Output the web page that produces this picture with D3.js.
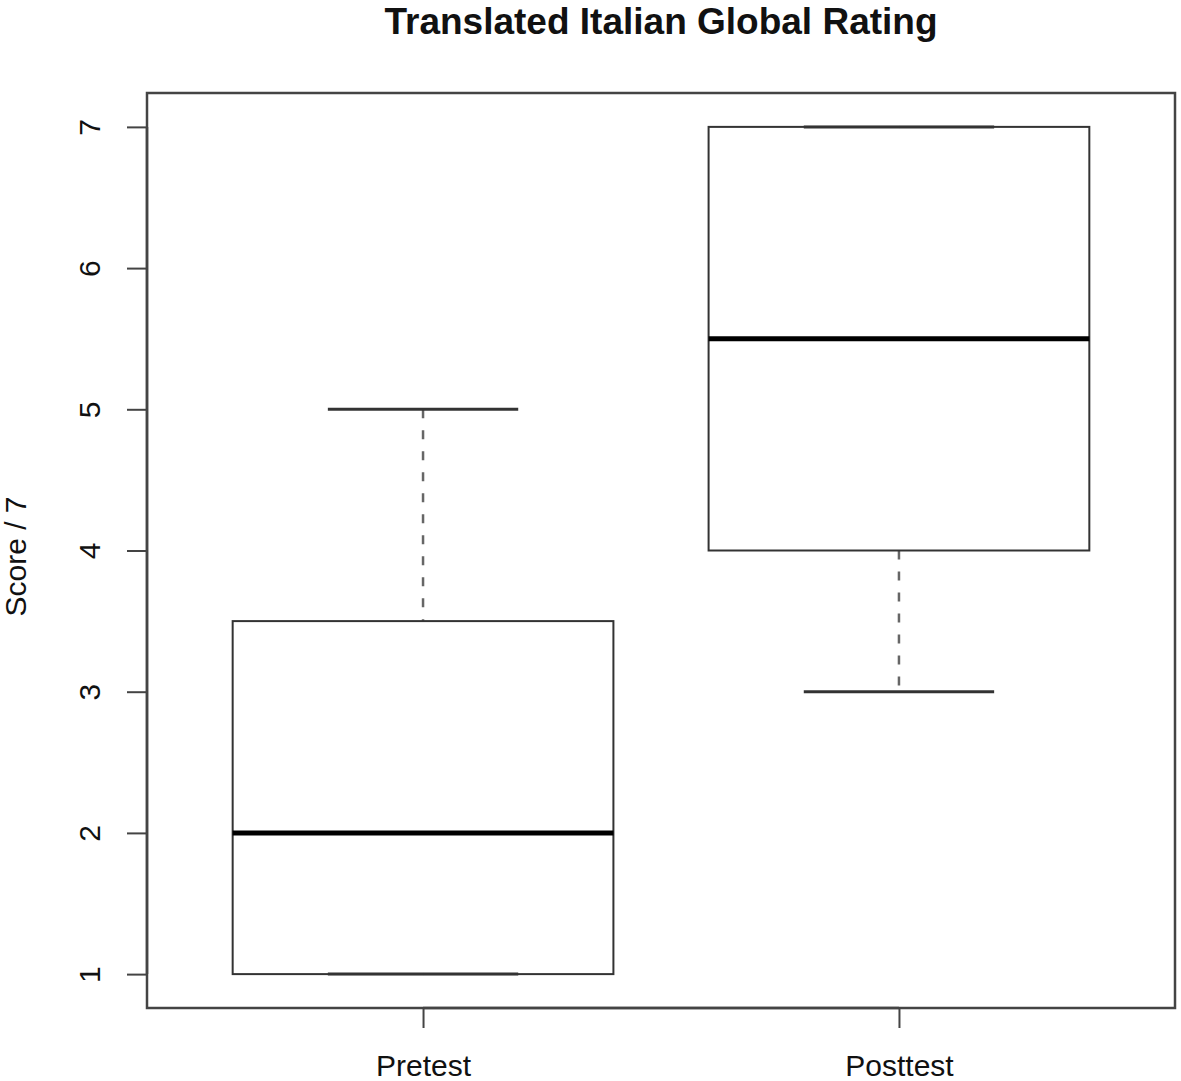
<!DOCTYPE html>
<html>
<head>
<meta charset="utf-8">
<script src="https://cdn.jsdelivr.net/npm/d3@7"></script>
<style>
  html, body { margin: 0; padding: 0; background: #fff; }
  text { font-family: "Liberation Sans", Arial, sans-serif; fill: #111; }
</style>
</head>
<body>
<svg id="chart" width="1181" height="1081"></svg>
<script>
// ---- data ----
const categories = ["Pretest", "Posttest"];
const whiskerLow  = [1, 3];
const q1          = [1, 4];
const median      = [2, 5.5];
const q3          = [3.5, 7];
const whiskerHigh = [5, 7];
const yTicks = [1, 2, 3, 4, 5, 6, 7];
const title = "Translated Italian Global Rating";
const yLabel = "Score / 7";

// ---- layout ----
const plot = { left: 147, right: 1175, top: 93, bottom: 1008 };
const svg = d3.select("#chart");

const x = d3.scaleLinear().domain([0.42, 2.58]).range([plot.left, plot.right]);
const y = d3.scaleLinear().domain([0.76, 7.24]).range([plot.bottom, plot.top]);
const boxW = x(1.4) - x(0.6);
const capW = boxW / 2;
const lineCol = "#333";

const data = categories.map((c, i) => ({
  name: c, pos: i + 1,
  lo: whiskerLow[i], q1: q1[i], med: median[i], q3: q3[i], hi: whiskerHigh[i]
}));

const g = svg.append("g");

data.forEach(d => {
  const cx = x(d.pos);
  // whiskers (dashed)
  g.append("line").attr("x1", cx).attr("x2", cx)
    .attr("y1", y(d.hi)).attr("y2", y(d.q3))
    .attr("stroke", "#666").attr("stroke-width", 2.5).attr("stroke-dasharray", "9,12");
  g.append("line").attr("x1", cx).attr("x2", cx)
    .attr("y1", y(d.q1)).attr("y2", y(d.lo))
    .attr("stroke", "#666").attr("stroke-width", 2.5).attr("stroke-dasharray", "9,12");
  // box
  g.append("rect")
    .attr("x", cx - boxW / 2).attr("y", y(d.q3))
    .attr("width", boxW).attr("height", y(d.q1) - y(d.q3))
    .attr("fill", "none").attr("stroke", lineCol).attr("stroke-width", 2);
  // caps
  [d.lo, d.hi].forEach(v => {
    g.append("line").attr("x1", cx - capW / 2).attr("x2", cx + capW / 2)
      .attr("y1", y(v)).attr("y2", y(v))
      .attr("stroke", lineCol).attr("stroke-width", 3);
  });
  // median
  g.append("line").attr("x1", cx - boxW / 2).attr("x2", cx + boxW / 2)
    .attr("y1", y(d.med)).attr("y2", y(d.med))
    .attr("stroke", "#000").attr("stroke-width", 5);
});

// plot frame
svg.append("rect")
  .attr("x", plot.left).attr("y", plot.top)
  .attr("width", plot.right - plot.left).attr("height", plot.bottom - plot.top)
  .attr("fill", "none").attr("stroke", "#444").attr("stroke-width", 2.5);

// y axis
const yAxis = d3.axisLeft(y).tickValues(yTicks).tickSize(20).tickFormat(d3.format("d"));
const ya = svg.append("g").attr("transform", `translate(${plot.left},0)`).call(yAxis);
ya.select(".domain").attr("stroke", "#444").attr("stroke-width", 2.5)
  .attr("d", `M0,${y(1)}V${y(7)}`);
ya.selectAll(".tick line").attr("stroke", "#444").attr("stroke-width", 2);
ya.selectAll(".tick text")
  .attr("x", null).attr("dy", null)
  .attr("text-anchor", "middle")
  .attr("transform", "translate(-47,0) rotate(-90)")
  .style("font-size", "30px").style("font-family", "Liberation Sans, Arial, sans-serif")
  .attr("fill", "#111");

// x axis
const xAxis = d3.axisBottom(x).tickValues([1, 2]).tickSize(20)
  .tickFormat(d => categories[d - 1]);
const xa = svg.append("g").attr("transform", `translate(0,${plot.bottom})`).call(xAxis);
xa.select(".domain").attr("stroke", "#444").attr("stroke-width", 2.5)
  .attr("d", `M${x(1)},0H${x(2)}`);
xa.selectAll(".tick line").attr("stroke", "#444").attr("stroke-width", 2);
xa.selectAll(".tick text")
  .attr("y", 68).attr("dy", null)
  .style("font-size", "30px").style("font-family", "Liberation Sans, Arial, sans-serif")
  .attr("fill", "#111");

// title
svg.append("text")
  .attr("x", (plot.left + plot.right) / 2).attr("y", 34)
  .attr("text-anchor", "middle")
  .style("font-size", "37px").style("font-weight", "bold")
  .text(title);

// y label
svg.append("text")
  .attr("transform", `translate(26,${(plot.top + plot.bottom) / 2 + 6}) rotate(-90)`)
  .attr("text-anchor", "middle")
  .style("font-size", "30px")
  .text(yLabel);
</script>
</body>
</html>
